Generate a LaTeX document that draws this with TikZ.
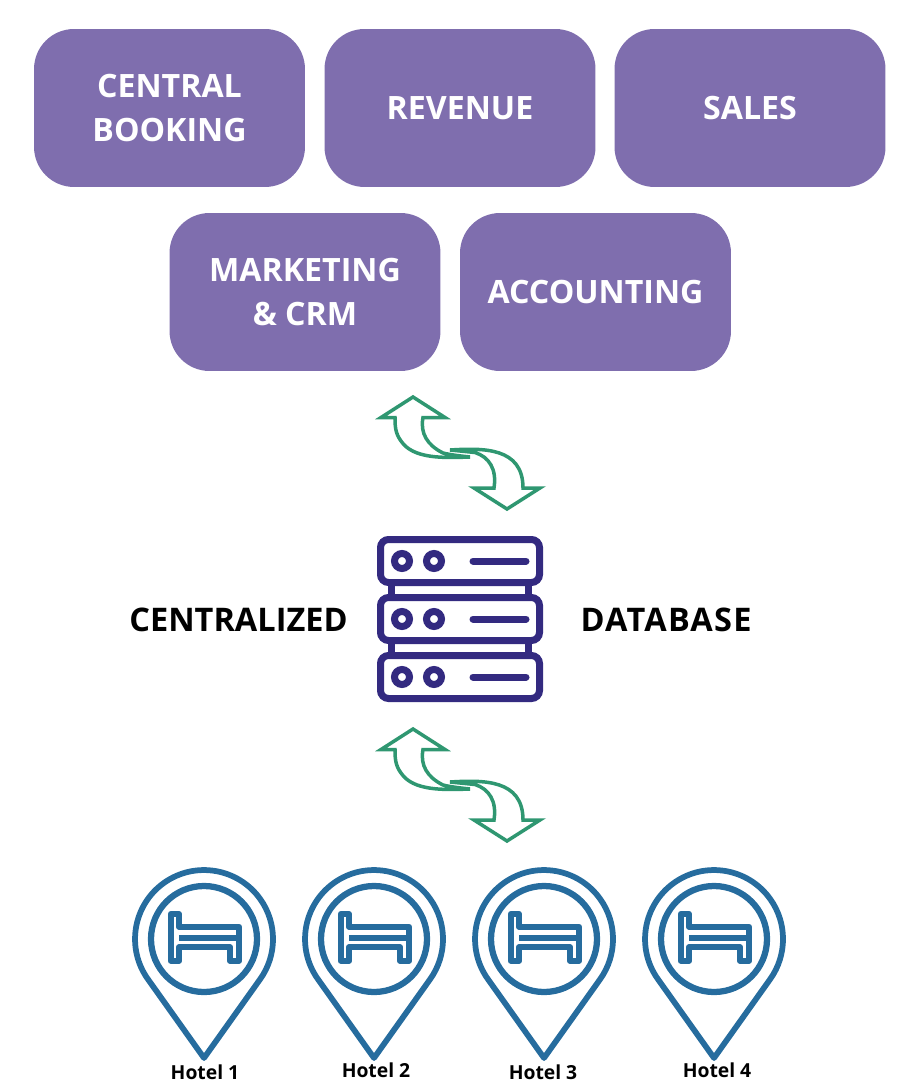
\documentclass[tikz,border=0pt]{standalone}
\usepackage{xcolor}
\usepackage{fontspec}
\setmainfont{Open Sans}
\usepackage{tikz}
\definecolor{deptpurple}{HTML}{7F6EAE}
\definecolor{swapgreen}{HTML}{2F9771}
\definecolor{servernavy}{HTML}{332A80}
\definecolor{pinblue}{HTML}{266C9E}
\tikzset{>=stealth}
\tikzset{
        deptbox/.style={fill=deptpurple,text=white,rounded corners=0.8cm,minimum width=5.42cm,minimum height=3.16cm,align=center,font=\fontsize{18.3}{25}\selectfont\bfseries},
        dbtext/.style={font=\fontsize{18.5}{20}\selectfont\bfseries},
        hoteltext/.style={font=\fontsize{11}{12}\selectfont\bfseries},
        swaparrow/.pic={
                \draw[swapgreen,line width=0.07cm,line join=miter]
                        (0,0) -- (32,20.5) -- (10,20.5) .. controls (7,36) and (14,48) .. (30,56)
                        .. controls (38,58) and (48,59) .. (57,60) .. controls (30,61) and (0,62) .. (-12,44)
                        .. controls (-18,36) and (-18,28) .. (-18,20.5) -- (-32,20.5) -- cycle;
                \draw[swapgreen,line width=0.07cm,line join=miter]
                        (37,53) .. controls (70,51) and (110,50) .. (110,91) -- (127,91) -- (94,112) -- (61,91)
                        -- (81,91) .. controls (84,72) and (76,60) .. (62,55.5) -- cycle;
        },
        serverunit/.pic={
                \draw[servernavy,line width=0.14cm,rounded corners=0.16cm] (-79.5,-21.5) rectangle (79.5,21.5);
                \draw[servernavy,line width=0.14cm] (-58,0) circle (7.5);
                \draw[servernavy,line width=0.14cm] (-26,0) circle (7.5);
                \draw[servernavy,line width=0.14cm,line cap=round] (13,0) -- (66,0);
        },
        hotelpin/.pic={
                \draw[pinblue,line width=0.115cm,line join=round]
                        (-56.2,40) arc[start angle=215.4,end angle=-35.4,radius=1.38cm] -- (0,119) -- cycle;
                \draw[pinblue,line width=0.125cm] (0,0) circle (53);
                \draw[pinblue,line width=0.125cm,line join=round]
                        (-33.3,-25) -- (-25,-25) -- (-25,-12.3) -- (35,-12.3) -- (35,21.7) -- (26,21.7)
                        -- (26,8.3) -- (-25,8.3) -- (-25,21.7) -- (-33.3,21.7) -- cycle;
                \draw[pinblue,line width=0.125cm] (-25,-0.7) -- (35,-0.7);
        }
}
\begin{document}
\begin{tikzpicture}[x=0.02cm,y=-0.02cm]
        \useasboundingbox (0,0) rectangle (920,1084);
        % departments
        \node[deptbox] (booking) at (169.5,108) {CENTRAL\\BOOKING};
        \node[deptbox] (revenue) at (460,108) {REVENUE};
        \node[deptbox] (sales) at (750,108) {SALES};
        \node[deptbox] (marketing) at (305,292) {MARKETING\\\& CRM};
        \node[deptbox] (accounting) at (595.5,292) {ACCOUNTING};
        \pic at (413,397) {swaparrow};
        % database
        \draw[servernavy,line width=0.14cm] (391,582) -- (391,598);
        \draw[servernavy,line width=0.14cm] (528,582) -- (528,598);
        \draw[servernavy,line width=0.14cm] (391,640) -- (391,656);
        \draw[servernavy,line width=0.14cm] (528,640) -- (528,656);
        \pic at (460,561) {serverunit};
        \pic at (460,619) {serverunit};
        \pic at (460,677) {serverunit};
        \node[dbtext] (central) at (238.5,620) {CENTRALIZED};
        \node[dbtext] (database) at (666,620) {\addfontfeature{LetterSpace=3.8}DATABASE};
        \pic at (413,729) {swaparrow};
        % hotels
        \pic at (204,939) {hotelpin};
        \pic at (374,939) {hotelpin};
        \pic at (544,939) {hotelpin};
        \pic at (714,939) {hotelpin};
        \node[hoteltext] (hotela) at (205,1072) {Hotel 1};
        \node[hoteltext] (hotelb) at (376,1070) {Hotel 2};
        \node[hoteltext] (hotelc) at (543,1072) {Hotel 3};
        \node[hoteltext] (hoteld) at (717,1070) {Hotel 4};
\end{tikzpicture}
\end{document}
